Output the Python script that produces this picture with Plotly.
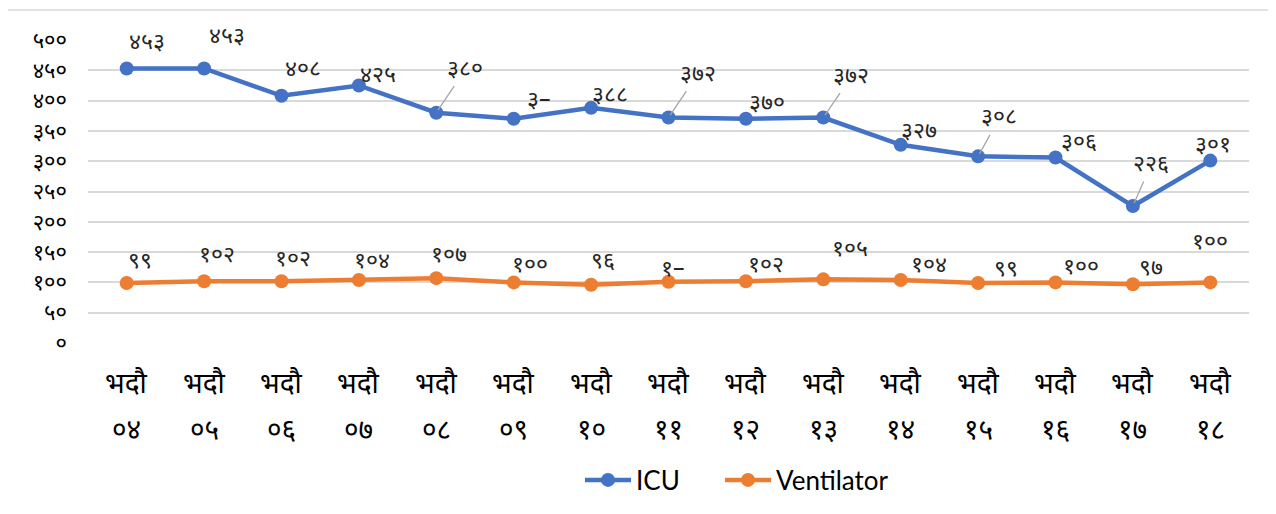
import plotly.graph_objects as go

# ---- data ----
months = ["०४", "०५", "०६", "०७", "०८", "०९", "१०", "११", "१२", "१३", "१४", "१५", "१६", "१७", "१८"]
month_word = "भदौ"
icu = [453, 453, 408, 425, 380, 370, 388, 372, 370, 372, 327, 308, 306, 226, 301]
ventilator = [99, 102, 102, 104, 107, 100, 96, 101, 102, 105, 104, 99, 100, 97, 100]
icu_labels = ["४५३", "४५३", "४०८", "४२५", "३८०", "३–", "३८८", "३७२", "३७०", "३७२", "३२७", "३०८", "३०६", "२२६", "३०१"]
vent_labels = ["९९", "१०२", "१०२", "१०४", "१०७", "१००", "९६", "१–", "१०२", "१०५", "१०४", "९९", "१००", "९७", "१००"]
y_ticks = [0, 50, 100, 150, 200, 250, 300, 350, 400, 450, 500]
y_ticktext = ["०", "५०", "१००", "१५०", "२००", "२५०", "३००", "३५०", "४००", "४५०", "५००"]

# label offsets (pixels) and leader-line flags
icu_off = [(20, -25), (23, -31), (21, -26), (19, -9), (29, -43), (25, -18), (19, -12), (29, -43),
           (21, -15), (28, -41), (18, -13), (21, -38), (23, -15), (18, -41), (3, -15)]
icu_leader = [False, False, False, False, True, False, False, True, False, True, False, True, False, True, False]
vent_off = [(13, -21), (13, -25), (11, -21), (13, -18), (13, -22), (16, -16), (12, -23), (4, -12),
            (20, -15), (27, -29), (28, -14), (28, -13), (25, -14), (18, -15), (0, -39)]

cats = [month_word + " " + m for m in months]

BLUE = "#4472C4"
ORANGE = "#ED7D31"
DEV = "Noto Sans Devanagari, Lohit Devanagari, Mangal, Noto Sans, sans-serif"

# page body has an 8px default margin; compensate
OFF = 8
L, T, PW, PH = 88 - OFF, 40 - OFF, 1161, 303
W, H = 1276 - OFF, 514 - OFF

fig = go.Figure()
fig.add_trace(go.Scatter(x=cats, y=icu, name="ICU", mode="lines+markers", legend="legend",
                         line=dict(color=BLUE, width=4.5), marker=dict(size=14, color=BLUE)))
fig.add_trace(go.Scatter(x=cats, y=ventilator, name="Ventilator", mode="lines+markers", legend="legend2",
                         line=dict(color=ORANGE, width=4.5), marker=dict(size=14, color=ORANGE)))

ann = []
lab_font = dict(family=DEV, size=23, color="#262626")
for c, v, t, (dx, dy), ld in zip(cats, icu, icu_labels, icu_off, icu_leader):
    if ld:
        ann.append(dict(x=c, y=v, text=t, showarrow=True, arrowhead=0, arrowwidth=1.3,
                        arrowcolor="#A6A6A6", ax=dx, ay=dy, font=lab_font, standoff=3))
    else:
        ann.append(dict(x=c, y=v, text=t, showarrow=False, xshift=dx, yshift=-dy, font=lab_font))
for c, v, t, (dx, dy) in zip(cats, ventilator, vent_labels, vent_off):
    ann.append(dict(x=c, y=v, text=t, showarrow=False, xshift=dx, yshift=-dy, font=lab_font))

# two-line category labels
tick_font = dict(family=DEV, size=28, color="#000000")
for c, m in zip(cats, months):
    ann.append(dict(x=c, y=(343 - 385) / PH, yref="paper", text=month_word, showarrow=False,
                    yanchor="middle", font=tick_font))
    ann.append(dict(x=c, y=(343 - 432) / PH, yref="paper", text=m, showarrow=False,
                    yanchor="middle", font=tick_font))

leg_common = dict(orientation="h", xanchor="left", y=(343 - 480) / PH, yanchor="middle",
                  font=dict(family="Lato, Open Sans, sans-serif", size=26, color="#000000"),
                  bgcolor="rgba(0,0,0,0)", itemwidth=46)

fig.update_layout(
    width=W, height=H,
    margin=dict(l=L, r=W - L - PW, t=T, b=H - T - PH, autoexpand=False),
    plot_bgcolor="white", paper_bgcolor="white",
    showlegend=True,
    legend=dict(x=(580 - 88) / PW, **leg_common),
    legend2=dict(x=(720 - 88) / PW, **leg_common),
    annotations=ann,
    shapes=[
        dict(type="line", xref="paper", yref="paper", x0=(6 - 88) / PW, x1=1.1,
             y0=(343 - 10) / PH, y1=(343 - 10) / PH, line=dict(color="#D9D9D9", width=1.5)),
        dict(type="line", xref="paper", yref="paper", x0=(6 - 88) / PW, x1=(6 - 88) / PW,
             y0=(343 - 10) / PH, y1=-0.7, line=dict(color="#D9D9D9", width=2)),
    ],
)
fig.update_xaxes(showticklabels=False, showgrid=False, zeroline=False, showline=False, ticks="",
                 range=[-0.5, len(cats) - 0.5])
fig.update_yaxes(range=[0, 500], tickvals=y_ticks, ticktext=y_ticktext,
                 showgrid=True, gridcolor="#D9D9D9", gridwidth=1.5, zeroline=False,
                 tickfont=dict(family=DEV, size=22, color="#000000"), ticklabelstandoff=20)

fig.write_html("out.html")
